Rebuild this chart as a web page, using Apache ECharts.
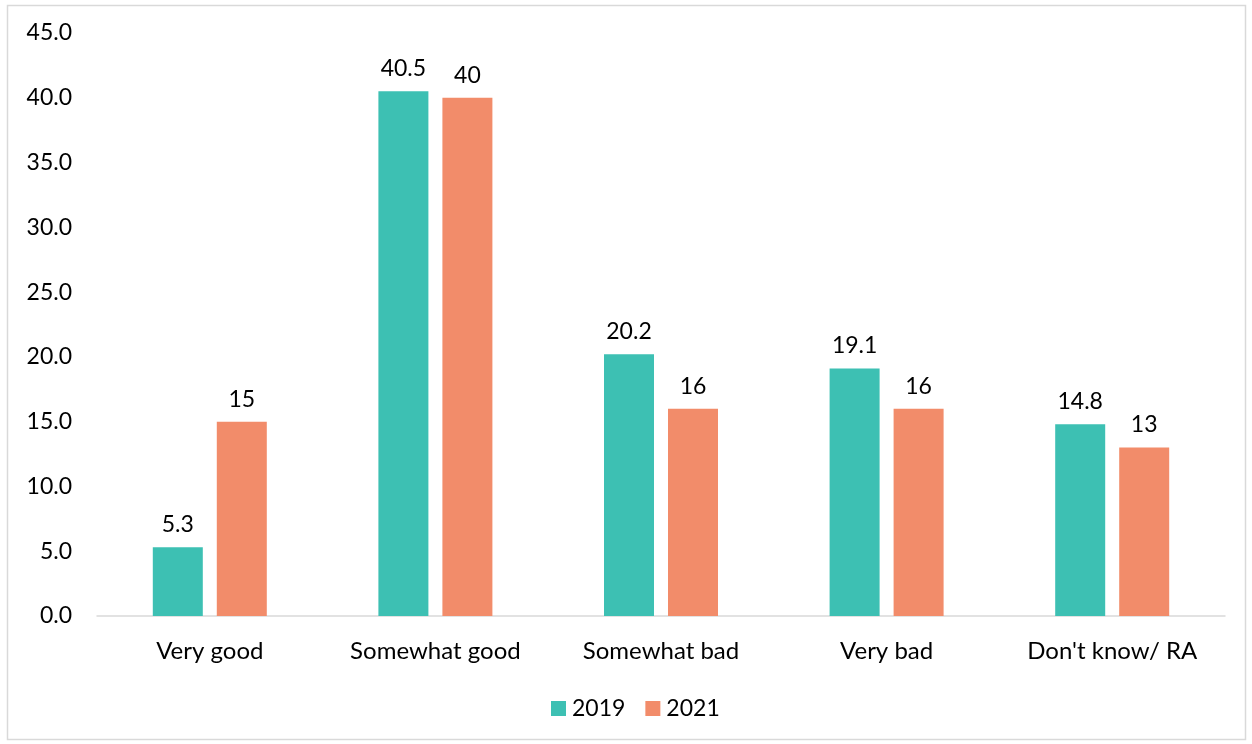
<!DOCTYPE html>
<html>
<head>
<meta charset="utf-8">
<script src="https://cdn.jsdelivr.net/npm/echarts@6/dist/echarts.min.js"></script>
<style>
  html, body { margin: 0; padding: 0; background: #fff; }
  #chart { width: 1252px; height: 744px; }
</style>
</head>
<body>
<div id="chart"></div>
<script>
// Survey answer categories
const categories = ['Very good', 'Somewhat good', 'Somewhat bad', 'Very bad', "Don't know/ RA"];
// Share of respondents (%) per year
const values2019 = [5.3, 40.5, 20.2, 19.1, 14.8];
const values2021 = [15, 40, 16, 16, 13];
const seriesNames = ['2019', '2021'];

const FONT = 'Lato, "Open Sans", sans-serif';
const chart = echarts.init(document.getElementById('chart'));

const labelStyle = {
  show: true,
  position: 'top',
  distance: 11,
  color: '#000',
  fontSize: 23,
  fontFamily: FONT
};

chart.setOption({
  animation: false,
  textStyle: { fontFamily: FONT },
  graphic: [{
    type: 'rect',
    shape: { x: 7.5, y: 5.5, width: 1238, height: 734 },
    style: { fill: 'none', stroke: '#d9d9d9', lineWidth: 1.5 },
    silent: true
  }],
  grid: { left: 97, right: 27, top: 33, bottom: 128, containLabel: false },
  legend: {
    data: seriesNames,
    left: 551,
    top: 697,
    padding: 0,
    itemWidth: 15,
    itemHeight: 15,
    itemGap: 20,
    icon: 'rect',
    textStyle: { fontSize: 23, color: '#000', fontFamily: FONT, padding: [0, 0, 0, 1] }
  },
  xAxis: {
    type: 'category',
    data: categories,
    axisTick: { show: false },
    axisLine: { lineStyle: { color: '#d9d9d9', width: 1.5 } },
    axisLabel: { color: '#000', fontSize: 24, margin: 23, fontFamily: FONT }
  },
  yAxis: {
    type: 'value',
    min: 0,
    max: 45,
    interval: 5,
    splitLine: { show: false },
    axisLine: { show: false },
    axisTick: { show: false },
    axisLabel: {
      color: '#000',
      fontSize: 23,
      margin: 25,
      fontFamily: FONT,
      formatter: v => v.toFixed(1)
    }
  },
  series: [
    {
      name: seriesNames[0],
      type: 'bar',
      data: values2019,
      barWidth: 50,
      barGap: '28%',
      itemStyle: { color: '#3dc0b3' },
      label: labelStyle
    },
    {
      name: seriesNames[1],
      type: 'bar',
      data: values2021,
      barWidth: 50,
      itemStyle: { color: '#f28c6a' },
      label: labelStyle
    }
  ]
});
</script>
</body>
</html>
